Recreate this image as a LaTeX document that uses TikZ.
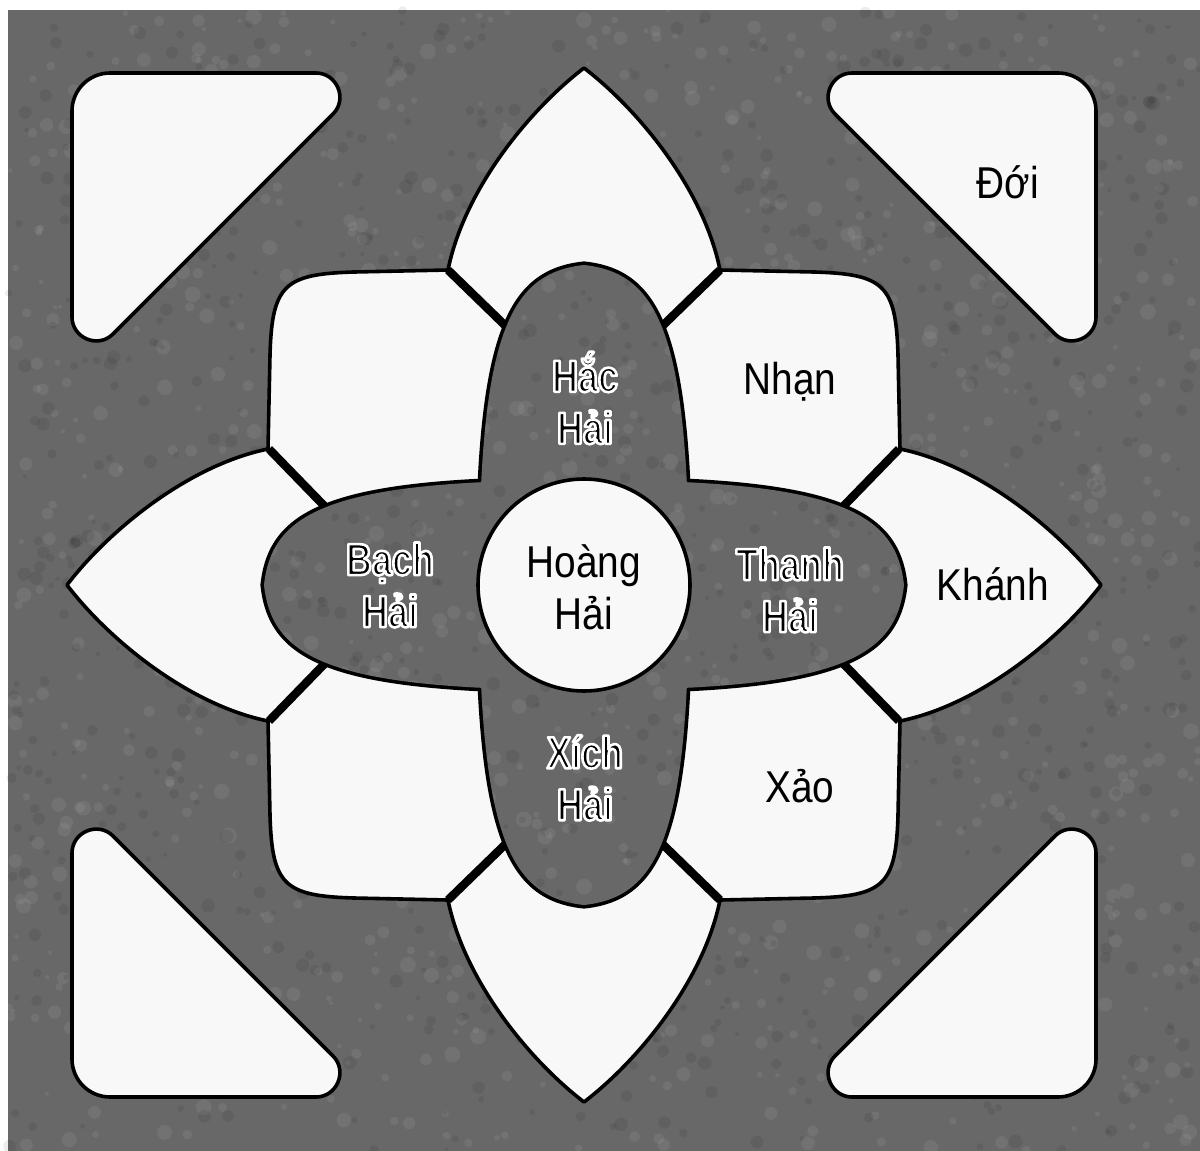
\documentclass[tikz,border=0pt]{standalone}
\usepackage{fontspec}
\newfontfamily\labfont{Liberation Sans}[FakeStretch=0.87]
\newfontfamily\halofont{Liberation Sans Bold}[FakeStretch=0.8]
\definecolor{bg}{RGB}{104,104,104}
\definecolor{petal}{RGB}{248,248,248}

\newcommand\flowerpath{(0,-517) .. controls (-55,-475) and (-120,-395) .. (-136,-315) -- (-230,-313) .. controls (-300,-311) and (-312,-300) .. (-314,-230) -- (-316,-136) .. controls (-395,-120) and (-475,-55) .. (-517,0) .. controls (-475,55) and (-395,120) .. (-316,136) -- (-314,230) .. controls (-312,300) and (-300,311) .. (-230,313) -- (-136,315) .. controls (-120,395) and (-55,475) .. (0,517) .. controls (55,475) and (120,395) .. (136,315) -- (230,313) .. controls (300,311) and (312,300) .. (314,230) -- (316,136) .. controls (395,120) and (475,55) .. (517,0) .. controls (475,-55) and (395,-120) .. (316,-136) -- (314,-230) .. controls (312,-300) and (300,-311) .. (230,-313) -- (136,-315) .. controls (120,-395) and (55,-475) .. (0,-517) -- cycle}

\newcommand\vlens{(0,-320) .. controls (-75,-312) and (-105,-250) .. (-105,0) .. controls (-105,250) and (-75,312) .. (0,320) .. controls (75,312) and (105,250) .. (105,0) .. controls (105,-250) and (75,-312) .. (0,-320) -- cycle}
\newcommand\hlens{(-320,0) .. controls (-312,75) and (-250,105) .. (0,105) .. controls (250,105) and (312,75) .. (320,0) .. controls (312,-75) and (250,-105) .. (0,-105) .. controls (-250,-105) and (-312,-75) .. (-320,0) -- cycle}

\newcommand\cornertri{(-474,-512) -- (-268,-512) .. controls (-247,-512) and (-236,-486) .. (-251,-471) -- (-471,-251) .. controls (-486,-236) and (-512,-247) .. (-512,-268) -- (-512,-474) .. controls (-512,-495) and (-495,-512) .. (-474,-512) -- cycle}

\newcommand\bgtexture{%
  \pgfmathsetseed{11}%
  \foreach \i in {1,...,1100}{%
    \pgfmathsetmacro\px{8+1192*rnd}%
    \pgfmathsetmacro\py{10+1141*rnd}%
    \pgfmathsetmacro\pr{2+6*rnd}%
    \fill[white,opacity=0.07] (\px,\py) circle[radius=\pr];
  }%
  \foreach \i in {1,...,1100}{%
    \pgfmathsetmacro\px{8+1192*rnd}%
    \pgfmathsetmacro\py{10+1141*rnd}%
    \pgfmathsetmacro\pr{2+5*rnd}%
    \fill[black,opacity=0.07] (\px,\py) circle[radius=\pr];
  }%
}

\newcommand\halotext[1]{\special{pdf:literal direct 2 Tr 1.3 w 1 1 1 RG 1 j}#1\special{pdf:literal direct 0 Tr}}

\begin{document}
\begin{tikzpicture}[x=0.5pt,y=-0.5pt,
  outline/.style={draw=black,line width=1.8pt,line join=round},
  sep/.style={draw=black,line width=4.2pt},
  lab/.style={font=\labfont\fontsize{22.3}{26}\selectfont,inner sep=0pt,text=black},
  hlab/.style={font=\halofont\fontsize{22.5}{26}\selectfont,align=center,inner sep=0pt,text=black}]
\useasboundingbox (0,0) rectangle (1200,1151);
\fill[white] (0,0) rectangle (1200,1151);
\fill[bg] (8,10) rectangle (1200,1151);
\bgtexture

\begin{scope}[shift={(584,585)}]
  \foreach \r in {0,90,180,270}{%
    \begin{scope}[rotate=\r]
      \filldraw[fill=petal,outline] \cornertri;
    \end{scope}
  }
  \fill[petal] \flowerpath;
  \begin{scope}
    \clip \flowerpath;
    \draw[sep] (-136,-315) -- (-66,-247);
    \draw[sep] (136,-315) -- (66,-247);
    \draw[sep] (-315,-136) -- (-247,-66);
    \draw[sep] (-315,136) -- (-247,66);
    \draw[sep] (315,-136) -- (247,-66);
    \draw[sep] (315,136) -- (247,66);
    \draw[sep] (-136,315) -- (-66,247);
    \draw[sep] (136,315) -- (66,247);
  \end{scope}
  \draw[outline] \flowerpath;
  \draw[black,line width=3.6pt] \vlens;
  \draw[black,line width=3.6pt] \hlens;
  \fill[bg] \vlens \hlens;
\end{scope}

\begin{scope}
  \clip[shift={(584,585)}] \vlens \hlens;
  \bgtexture
\end{scope}

\filldraw[fill=petal,outline] (584,585) circle[radius=106];

\node[lab,anchor=base] (doi) at (1008,198) {Đới};
\node[lab,anchor=base] (nhan) at (790,394) {Nhạn};
\node[lab,anchor=base] (khanh) at (993,600) {Khánh};
\node[lab,anchor=base] (xao) at (800,802) {Xảo};
\node[lab,align=center] (hoang) at (584,587) {Hoàng\\Hải};

\node[hlab] (hac) at (585,398) {\halotext{Hắc\\Hải}};
\node[hlab] (bach) at (390,585) {\halotext{Bạch\\Hải}};
\node[hlab] (thanh) at (790,590) {\halotext{Thanh\\Hải}};
\node[hlab] (xich) at (585,778) {\halotext{Xích\\Hải}};
\end{tikzpicture}
\end{document}
